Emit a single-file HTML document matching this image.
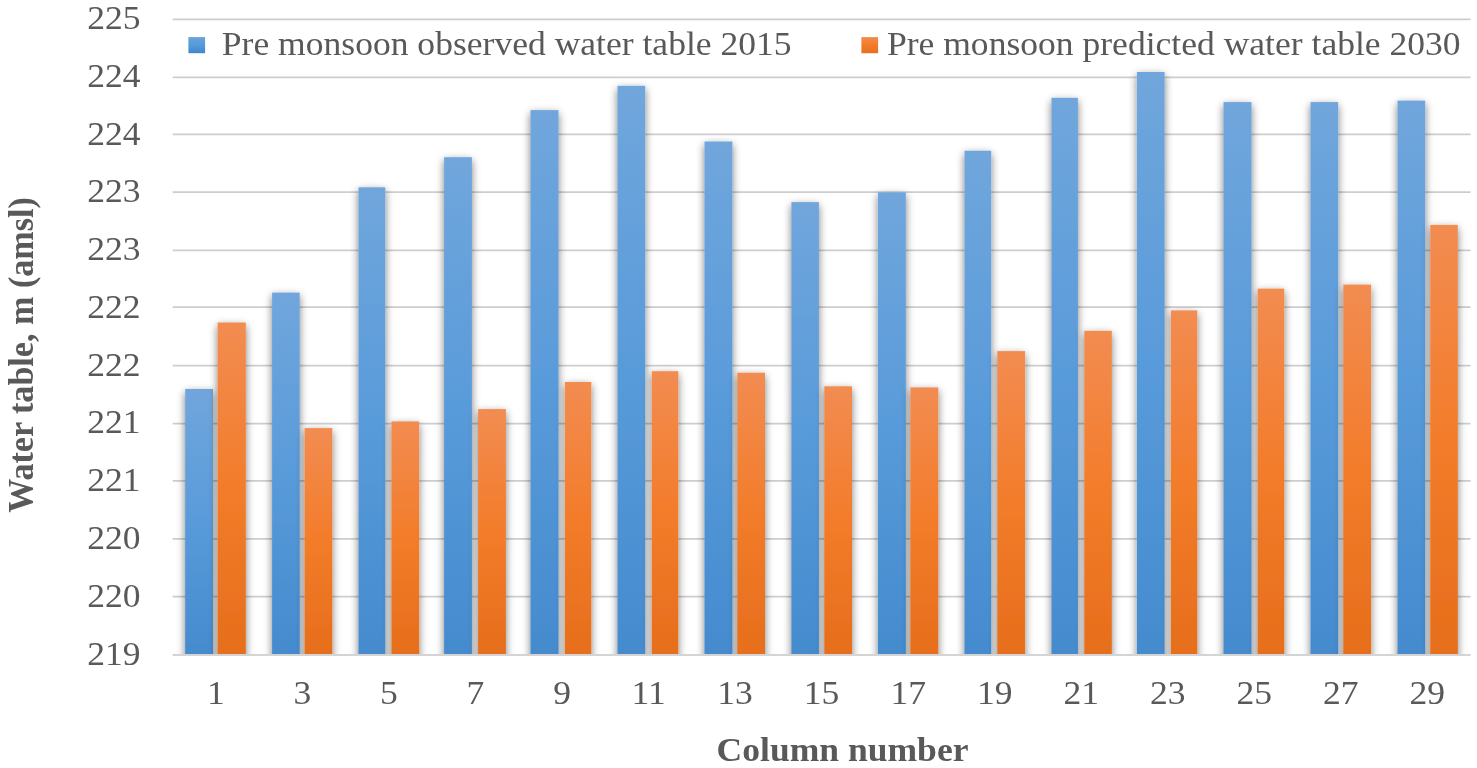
<!DOCTYPE html>
<html lang="en">
<head>
<meta charset="utf-8">
<title>Pre monsoon water table chart</title>
<style>
html,body{margin:0;padding:0;background:#fff;}
body{width:1477px;height:768px;overflow:hidden;}
svg{display:block;}
text{font-family:"Liberation Serif","Times New Roman",serif;fill:#595959;}
.b{font-weight:bold;}
</style>
</head>
<body>
<svg width="1477" height="768" viewBox="0 0 1477 768">
<defs>
<linearGradient id="gb" x1="0" y1="0" x2="0" y2="1"><stop offset="0" stop-color="#6aa3dc"/><stop offset="0.5" stop-color="#559ada"/><stop offset="1" stop-color="#3f87cd"/></linearGradient>
<linearGradient id="go" x1="0" y1="0" x2="0" y2="1"><stop offset="0" stop-color="#f28a4c"/><stop offset="0.5" stop-color="#f37c2a"/><stop offset="1" stop-color="#e66e1c"/></linearGradient>
<filter id="sh" x="-20" y="-20" width="1520" height="720" filterUnits="userSpaceOnUse"><feGaussianBlur in="SourceAlpha" stdDeviation="4.2"/><feOffset dx="0.3" dy="2.8"/><feComponentTransfer><feFuncA type="linear" slope="0.52"/></feComponentTransfer><feMerge><feMergeNode/><feMergeNode in="SourceGraphic"/></feMerge></filter>
<clipPath id="cp"><rect x="164.7" y="0" width="1313.9" height="654.0"/></clipPath>
</defs>
<rect width="1477" height="768" fill="#ffffff"/>

<g stroke="#cdcdcd" stroke-width="1.8" fill="none">
<line x1="172.7" y1="19.40" x2="1470.6" y2="19.40"/>
<line x1="172.7" y1="77.45" x2="1470.6" y2="77.45"/>
<line x1="172.7" y1="134.40" x2="1470.6" y2="134.40"/>
<line x1="172.7" y1="192.20" x2="1470.6" y2="192.20"/>
<line x1="172.7" y1="250.30" x2="1470.6" y2="250.30"/>
<line x1="172.7" y1="307.20" x2="1470.6" y2="307.20"/>
<line x1="172.7" y1="365.55" x2="1470.6" y2="365.55"/>
<line x1="172.7" y1="423.60" x2="1470.6" y2="423.60"/>
<line x1="172.7" y1="480.80" x2="1470.6" y2="480.80"/>
<line x1="172.7" y1="538.80" x2="1470.6" y2="538.80"/>
<line x1="172.7" y1="596.60" x2="1470.6" y2="596.60"/>
</g>
<g clip-path="url(#cp)">
<g filter="url(#sh)">
<linearGradient id="b0" gradientUnits="userSpaceOnUse" x1="0" y1="389.0" x2="0" y2="654.0"><stop offset="0" stop-color="#70a6dc"/><stop offset="0.5" stop-color="#599bda"/><stop offset="1" stop-color="#448bce"/></linearGradient><rect x="185.2" y="389.0" width="27.8" height="285.0" fill="url(#b0)"/>
<linearGradient id="b1" gradientUnits="userSpaceOnUse" x1="0" y1="292.6" x2="0" y2="654.0"><stop offset="0" stop-color="#70a6dc"/><stop offset="0.5" stop-color="#599bda"/><stop offset="1" stop-color="#448bce"/></linearGradient><rect x="272.1" y="292.6" width="27.6" height="381.4" fill="url(#b1)"/>
<linearGradient id="b2" gradientUnits="userSpaceOnUse" x1="0" y1="187.3" x2="0" y2="654.0"><stop offset="0" stop-color="#70a6dc"/><stop offset="0.5" stop-color="#599bda"/><stop offset="1" stop-color="#448bce"/></linearGradient><rect x="358.5" y="187.3" width="26.8" height="486.7" fill="url(#b2)"/>
<linearGradient id="b3" gradientUnits="userSpaceOnUse" x1="0" y1="157.2" x2="0" y2="654.0"><stop offset="0" stop-color="#70a6dc"/><stop offset="0.5" stop-color="#599bda"/><stop offset="1" stop-color="#448bce"/></linearGradient><rect x="444.1" y="157.2" width="27.8" height="516.8" fill="url(#b3)"/>
<linearGradient id="b4" gradientUnits="userSpaceOnUse" x1="0" y1="110.1" x2="0" y2="654.0"><stop offset="0" stop-color="#70a6dc"/><stop offset="0.5" stop-color="#599bda"/><stop offset="1" stop-color="#448bce"/></linearGradient><rect x="530.5" y="110.1" width="28.0" height="563.9" fill="url(#b4)"/>
<linearGradient id="b5" gradientUnits="userSpaceOnUse" x1="0" y1="85.8" x2="0" y2="654.0"><stop offset="0" stop-color="#70a6dc"/><stop offset="0.5" stop-color="#599bda"/><stop offset="1" stop-color="#448bce"/></linearGradient><rect x="617.5" y="85.8" width="27.7" height="588.2" fill="url(#b5)"/>
<linearGradient id="b6" gradientUnits="userSpaceOnUse" x1="0" y1="141.5" x2="0" y2="654.0"><stop offset="0" stop-color="#70a6dc"/><stop offset="0.5" stop-color="#599bda"/><stop offset="1" stop-color="#448bce"/></linearGradient><rect x="704.5" y="141.5" width="27.9" height="532.5" fill="url(#b6)"/>
<linearGradient id="b7" gradientUnits="userSpaceOnUse" x1="0" y1="202.1" x2="0" y2="654.0"><stop offset="0" stop-color="#70a6dc"/><stop offset="0.5" stop-color="#599bda"/><stop offset="1" stop-color="#448bce"/></linearGradient><rect x="791.4" y="202.1" width="27.5" height="471.9" fill="url(#b7)"/>
<linearGradient id="b8" gradientUnits="userSpaceOnUse" x1="0" y1="192.3" x2="0" y2="654.0"><stop offset="0" stop-color="#70a6dc"/><stop offset="0.5" stop-color="#599bda"/><stop offset="1" stop-color="#448bce"/></linearGradient><rect x="877.9" y="192.3" width="27.9" height="481.7" fill="url(#b8)"/>
<linearGradient id="b9" gradientUnits="userSpaceOnUse" x1="0" y1="150.7" x2="0" y2="654.0"><stop offset="0" stop-color="#70a6dc"/><stop offset="0.5" stop-color="#599bda"/><stop offset="1" stop-color="#448bce"/></linearGradient><rect x="964.5" y="150.7" width="26.7" height="523.3" fill="url(#b9)"/>
<linearGradient id="b10" gradientUnits="userSpaceOnUse" x1="0" y1="97.8" x2="0" y2="654.0"><stop offset="0" stop-color="#70a6dc"/><stop offset="0.5" stop-color="#599bda"/><stop offset="1" stop-color="#448bce"/></linearGradient><rect x="1051.5" y="97.8" width="26.4" height="576.2" fill="url(#b10)"/>
<linearGradient id="b11" gradientUnits="userSpaceOnUse" x1="0" y1="72.0" x2="0" y2="654.0"><stop offset="0" stop-color="#70a6dc"/><stop offset="0.5" stop-color="#599bda"/><stop offset="1" stop-color="#448bce"/></linearGradient><rect x="1136.9" y="72.0" width="27.7" height="602.0" fill="url(#b11)"/>
<linearGradient id="b12" gradientUnits="userSpaceOnUse" x1="0" y1="102.1" x2="0" y2="654.0"><stop offset="0" stop-color="#70a6dc"/><stop offset="0.5" stop-color="#599bda"/><stop offset="1" stop-color="#448bce"/></linearGradient><rect x="1223.5" y="102.1" width="28.0" height="571.9" fill="url(#b12)"/>
<linearGradient id="b13" gradientUnits="userSpaceOnUse" x1="0" y1="102.1" x2="0" y2="654.0"><stop offset="0" stop-color="#70a6dc"/><stop offset="0.5" stop-color="#599bda"/><stop offset="1" stop-color="#448bce"/></linearGradient><rect x="1310.5" y="102.1" width="27.7" height="571.9" fill="url(#b13)"/>
<linearGradient id="b14" gradientUnits="userSpaceOnUse" x1="0" y1="100.6" x2="0" y2="654.0"><stop offset="0" stop-color="#70a6dc"/><stop offset="0.5" stop-color="#599bda"/><stop offset="1" stop-color="#448bce"/></linearGradient><rect x="1397.5" y="100.6" width="27.7" height="573.4" fill="url(#b14)"/>
</g><g filter="url(#sh)">
<linearGradient id="o0" gradientUnits="userSpaceOnUse" x1="0" y1="322.5" x2="0" y2="654.0"><stop offset="0" stop-color="#f28c51"/><stop offset="0.5" stop-color="#f37c2a"/><stop offset="1" stop-color="#e66e1c"/></linearGradient><rect x="217.6" y="322.5" width="28.2" height="351.5" fill="url(#o0)"/>
<linearGradient id="o1" gradientUnits="userSpaceOnUse" x1="0" y1="428.1" x2="0" y2="654.0"><stop offset="0" stop-color="#f28c51"/><stop offset="0.5" stop-color="#f37c2a"/><stop offset="1" stop-color="#e66e1c"/></linearGradient><rect x="304.6" y="428.1" width="27.7" height="245.9" fill="url(#o1)"/>
<linearGradient id="o2" gradientUnits="userSpaceOnUse" x1="0" y1="421.4" x2="0" y2="654.0"><stop offset="0" stop-color="#f28c51"/><stop offset="0.5" stop-color="#f37c2a"/><stop offset="1" stop-color="#e66e1c"/></linearGradient><rect x="391.5" y="421.4" width="27.7" height="252.6" fill="url(#o2)"/>
<linearGradient id="o3" gradientUnits="userSpaceOnUse" x1="0" y1="409.1" x2="0" y2="654.0"><stop offset="0" stop-color="#f28c51"/><stop offset="0.5" stop-color="#f37c2a"/><stop offset="1" stop-color="#e66e1c"/></linearGradient><rect x="478.1" y="409.1" width="27.8" height="264.9" fill="url(#o3)"/>
<linearGradient id="o4" gradientUnits="userSpaceOnUse" x1="0" y1="382.0" x2="0" y2="654.0"><stop offset="0" stop-color="#f28c51"/><stop offset="0.5" stop-color="#f37c2a"/><stop offset="1" stop-color="#e66e1c"/></linearGradient><rect x="564.9" y="382.0" width="26.4" height="292.0" fill="url(#o4)"/>
<linearGradient id="o5" gradientUnits="userSpaceOnUse" x1="0" y1="371.2" x2="0" y2="654.0"><stop offset="0" stop-color="#f28c51"/><stop offset="0.5" stop-color="#f37c2a"/><stop offset="1" stop-color="#e66e1c"/></linearGradient><rect x="651.8" y="371.2" width="26.5" height="302.8" fill="url(#o5)"/>
<linearGradient id="o6" gradientUnits="userSpaceOnUse" x1="0" y1="372.7" x2="0" y2="654.0"><stop offset="0" stop-color="#f28c51"/><stop offset="0.5" stop-color="#f37c2a"/><stop offset="1" stop-color="#e66e1c"/></linearGradient><rect x="737.3" y="372.7" width="27.7" height="301.3" fill="url(#o6)"/>
<linearGradient id="o7" gradientUnits="userSpaceOnUse" x1="0" y1="386.3" x2="0" y2="654.0"><stop offset="0" stop-color="#f28c51"/><stop offset="0.5" stop-color="#f37c2a"/><stop offset="1" stop-color="#e66e1c"/></linearGradient><rect x="824.3" y="386.3" width="27.7" height="287.7" fill="url(#o7)"/>
<linearGradient id="o8" gradientUnits="userSpaceOnUse" x1="0" y1="387.4" x2="0" y2="654.0"><stop offset="0" stop-color="#f28c51"/><stop offset="0.5" stop-color="#f37c2a"/><stop offset="1" stop-color="#e66e1c"/></linearGradient><rect x="910.4" y="387.4" width="27.9" height="286.6" fill="url(#o8)"/>
<linearGradient id="o9" gradientUnits="userSpaceOnUse" x1="0" y1="351.1" x2="0" y2="654.0"><stop offset="0" stop-color="#f28c51"/><stop offset="0.5" stop-color="#f37c2a"/><stop offset="1" stop-color="#e66e1c"/></linearGradient><rect x="997.3" y="351.1" width="27.8" height="322.9" fill="url(#o9)"/>
<linearGradient id="o10" gradientUnits="userSpaceOnUse" x1="0" y1="330.8" x2="0" y2="654.0"><stop offset="0" stop-color="#f28c51"/><stop offset="0.5" stop-color="#f37c2a"/><stop offset="1" stop-color="#e66e1c"/></linearGradient><rect x="1084.3" y="330.8" width="27.5" height="343.2" fill="url(#o10)"/>
<linearGradient id="o11" gradientUnits="userSpaceOnUse" x1="0" y1="310.4" x2="0" y2="654.0"><stop offset="0" stop-color="#f28c51"/><stop offset="0.5" stop-color="#f37c2a"/><stop offset="1" stop-color="#e66e1c"/></linearGradient><rect x="1170.9" y="310.4" width="26.4" height="363.6" fill="url(#o11)"/>
<linearGradient id="o12" gradientUnits="userSpaceOnUse" x1="0" y1="288.6" x2="0" y2="654.0"><stop offset="0" stop-color="#f28c51"/><stop offset="0.5" stop-color="#f37c2a"/><stop offset="1" stop-color="#e66e1c"/></linearGradient><rect x="1257.6" y="288.6" width="26.7" height="385.4" fill="url(#o12)"/>
<linearGradient id="o13" gradientUnits="userSpaceOnUse" x1="0" y1="284.6" x2="0" y2="654.0"><stop offset="0" stop-color="#f28c51"/><stop offset="0.5" stop-color="#f37c2a"/><stop offset="1" stop-color="#e66e1c"/></linearGradient><rect x="1343.3" y="284.6" width="27.8" height="389.4" fill="url(#o13)"/>
<linearGradient id="o14" gradientUnits="userSpaceOnUse" x1="0" y1="224.9" x2="0" y2="654.0"><stop offset="0" stop-color="#f28c51"/><stop offset="0.5" stop-color="#f37c2a"/><stop offset="1" stop-color="#e66e1c"/></linearGradient><rect x="1430.3" y="224.9" width="27.5" height="449.1" fill="url(#o14)"/>
</g></g>
<line x1="172.7" y1="655.00" x2="1470.6" y2="655.00" stroke="#d4d4d4" stroke-width="2"/>
<rect x="188.4" y="37.1" width="16.7" height="16.1" fill="url(#gb)"/>
<rect x="861.4" y="37.1" width="16.7" height="16.1" fill="url(#go)"/>
<text transform="translate(221.8 54.5) scale(1.028 1)" font-size="34.6" text-anchor="start">Pre monsoon observed water table 2015</text>
<text transform="translate(886.9 54.5) scale(1.028 1)" font-size="34.6" text-anchor="start">Pre monsoon predicted water table 2030</text>
<text transform="translate(140.6 29.0) scale(1.028 1)" font-size="34.6" text-anchor="end">225</text>
<text transform="translate(140.6 86.8) scale(1.028 1)" font-size="34.6" text-anchor="end">224</text>
<text transform="translate(140.6 144.5) scale(1.028 1)" font-size="34.6" text-anchor="end">224</text>
<text transform="translate(140.6 202.3) scale(1.028 1)" font-size="34.6" text-anchor="end">223</text>
<text transform="translate(140.6 260.1) scale(1.028 1)" font-size="34.6" text-anchor="end">223</text>
<text transform="translate(140.6 317.9) scale(1.028 1)" font-size="34.6" text-anchor="end">222</text>
<text transform="translate(140.6 375.6) scale(1.028 1)" font-size="34.6" text-anchor="end">222</text>
<text transform="translate(140.6 433.4) scale(1.028 1)" font-size="34.6" text-anchor="end">221</text>
<text transform="translate(140.6 491.2) scale(1.028 1)" font-size="34.6" text-anchor="end">221</text>
<text transform="translate(140.6 548.9) scale(1.028 1)" font-size="34.6" text-anchor="end">220</text>
<text transform="translate(140.6 606.7) scale(1.028 1)" font-size="34.6" text-anchor="end">220</text>
<text transform="translate(140.6 664.5) scale(1.028 1)" font-size="34.6" text-anchor="end">219</text>
<text transform="translate(216.0 703.9) scale(1.028 1)" font-size="34.6" text-anchor="middle">1</text>
<text transform="translate(302.5 703.9) scale(1.028 1)" font-size="34.6" text-anchor="middle">3</text>
<text transform="translate(389.0 703.9) scale(1.028 1)" font-size="34.6" text-anchor="middle">5</text>
<text transform="translate(475.5 703.9) scale(1.028 1)" font-size="34.6" text-anchor="middle">7</text>
<text transform="translate(562.1 703.9) scale(1.028 1)" font-size="34.6" text-anchor="middle">9</text>
<text transform="translate(648.6 703.9) scale(1.028 1)" font-size="34.6" text-anchor="middle">11</text>
<text transform="translate(735.1 703.9) scale(1.028 1)" font-size="34.6" text-anchor="middle">13</text>
<text transform="translate(821.6 703.9) scale(1.028 1)" font-size="34.6" text-anchor="middle">15</text>
<text transform="translate(908.2 703.9) scale(1.028 1)" font-size="34.6" text-anchor="middle">17</text>
<text transform="translate(994.7 703.9) scale(1.028 1)" font-size="34.6" text-anchor="middle">19</text>
<text transform="translate(1081.2 703.9) scale(1.028 1)" font-size="34.6" text-anchor="middle">21</text>
<text transform="translate(1167.8 703.9) scale(1.028 1)" font-size="34.6" text-anchor="middle">23</text>
<text transform="translate(1254.3 703.9) scale(1.028 1)" font-size="34.6" text-anchor="middle">25</text>
<text transform="translate(1340.8 703.9) scale(1.028 1)" font-size="34.6" text-anchor="middle">27</text>
<text transform="translate(1427.3 703.9) scale(1.028 1)" font-size="34.6" text-anchor="middle">29</text>
<text transform="translate(842.5 761.3) scale(1.028 1)" font-size="34.6" text-anchor="middle" class="b">Column number</text>
<text transform="translate(32.8 355.0) scale(1.028 1) rotate(-90)" font-size="34.1" text-anchor="middle" class="b">Water table, m (amsl)</text>
</svg>
</body>
</html>
